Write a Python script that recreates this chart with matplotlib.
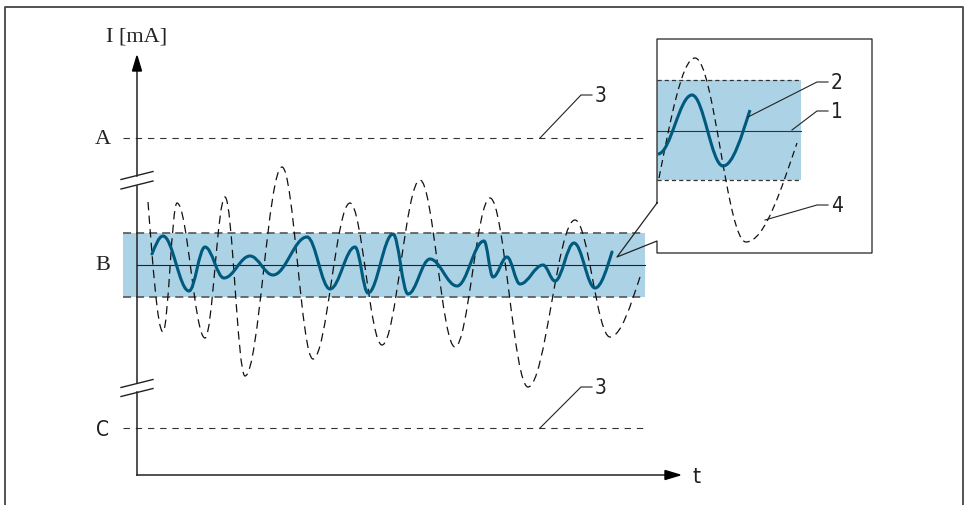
import matplotlib
matplotlib.use("Agg")
import matplotlib.pyplot as plt
from matplotlib.path import Path
from matplotlib.patches import PathPatch, Polygon, Rectangle

plt.rcParams['lines.scale_dashes'] = False

# signal (pixel space, y grows downwards)
solid_x = [152, 163, 189, 205, 224, 250, 273, 307, 330, 355, 368, 393, 408,
           430, 457, 484, 493, 507, 520, 543, 555, 574, 595, 612]
solid_y = [254, 236, 291, 247, 278, 256, 275, 237, 289, 247, 293, 234, 294,
           259, 286, 241, 277, 257, 284, 265, 281, 243, 288, 252]

dashed_x = [148, 163, 177, 205, 225, 245, 282, 313, 350, 382, 420, 455, 490,
            528, 575, 610, 640]
dashed_y = [202, 332, 203, 338, 197, 376, 167, 359, 203, 345, 180, 347, 198,
            387, 220, 337, 277]

inset_solid_x = [658, 692, 723, 750]
inset_solid_y = [154, 95, 166, 110]
inset_dashed_x = [659, 695, 746, 797]
inset_dashed_y = [178, 58, 242, 143]

# levels
level_y = {'A': 138, 'B': 265, 'C': 428}
band_top, band_bottom = 233, 297
inset_band_top, inset_band_bottom = 80, 180
inset_mid = 131

BLUE = '#acd2e6'
TEAL = '#005a7d'
GREY = '#555555'


def wave_path(xs, ys, free_start=False, free_end=False, k=0.37):
    verts = [(xs[0], ys[0])]
    codes = [Path.MOVETO]
    n = len(xs)
    for i in range(n - 1):
        x0, y0, x1, y1 = xs[i], ys[i], xs[i + 1], ys[i + 1]
        dx, dy = x1 - x0, y1 - y0
        if i == 0 and free_start:
            c1 = (x0 + dx * 0.3, y0 + dy * 0.45)
        else:
            c1 = (x0 + dx * k, y0)
        if i == n - 2 and free_end:
            c2 = (x1 - dx * 0.3, y1 - dy * 0.45)
        else:
            c2 = (x1 - dx * k, y1)
        verts += [c1, c2, (x1, y1)]
        codes += [Path.CURVE4] * 3
    return Path(verts, codes)


fig = plt.figure(figsize=(9.68, 5.05), dpi=100)
ax = fig.add_axes([0, 0, 1, 1])
ax.set_xlim(0, 968)
ax.set_ylim(505, 0)
ax.axis('off')

# outer frame
ax.plot([5, 5, 963, 963], [510, 7, 7, 510], color='#444444', lw=1.3)

serif = 'Liberation Serif'
sans = 'DejaVu Sans'

# main band
ax.add_patch(Rectangle((123, band_top), 645 - 123, band_bottom - band_top,
                       facecolor=BLUE, edgecolor='none', zorder=1))
for yy in (band_top, band_bottom):
    ax.plot([123, 645], [yy, yy], color=GREY, lw=1.2,
            linestyle=(0, (5.8, 3.6)), zorder=2)
ax.plot([137, 645], [level_y['B'], level_y['B']], color='#222222', lw=0.8, zorder=2)

# limit lines A and C
for key in ('A', 'C'):
    yy = level_y[key]
    ax.plot([123, 645], [yy, yy], color='#333333', lw=0.8,
            linestyle=(0, (4.6, 4.2)), zorder=2)

# axes with breaks
ax.plot([137, 137], [475, 392], color='#222222', lw=1.1, zorder=3)
ax.plot([137, 137], [383, 185.5], color='#222222', lw=1.1, zorder=3)
ax.plot([137, 137], [176, 68], color='#222222', lw=1.1, zorder=3)
ax.plot([137, 666], [475, 475], color='#222222', lw=1.1, zorder=3)
ax.add_patch(Polygon([(137, 56), (132.5, 71), (141.5, 71)], closed=True,
                     color='black', zorder=3))
ax.add_patch(Polygon([(680, 475), (665, 470.5), (665, 479.5)], closed=True,
                     color='black', zorder=3))
for y0 in (179.5, 189, 387.5, 396.5):
    ax.plot([121, 153], [y0, y0 - 8], color='#222222', lw=1.0, zorder=3)

# waves
ax.add_patch(PathPatch(wave_path(dashed_x, dashed_y, True, True), fill=False,
                       edgecolor='#111111', lw=0.9, linestyle=(0, (6.0, 3.8)),
                       zorder=4))
ax.add_patch(PathPatch(wave_path(solid_x, solid_y, True, True), fill=False,
                       edgecolor=TEAL, lw=2.2, zorder=5, capstyle='round'))

# inset bubble
ax.plot([657, 657, 872, 872, 657, 657, 617, 657],
        [203, 39, 39, 253, 253, 241, 257, 203], color='#222222', lw=0.9, zorder=3)
ax.add_patch(Rectangle((657, inset_band_top), 801 - 657,
                       inset_band_bottom - inset_band_top,
                       facecolor=BLUE, edgecolor='none', zorder=1))
for yy in (inset_band_top, inset_band_bottom):
    ax.plot([657, 801], [yy, yy], color='#333333', lw=0.9,
            linestyle=(0, (3.0, 2.2)), zorder=2)
ax.plot([657, 801], [inset_mid, inset_mid], color='#333333', lw=0.8, zorder=2)
ax.add_patch(PathPatch(wave_path(inset_dashed_x, inset_dashed_y, True, True),
                       fill=False, edgecolor='#111111', lw=0.9,
                       linestyle=(0, (5.0, 3.2)), zorder=4))
ax.add_patch(PathPatch(wave_path(inset_solid_x, inset_solid_y, False, True),
                       fill=False, edgecolor=TEAL, lw=2.2, zorder=5))

# leaders and numbers
leaders = [((540, 138), (581, 95), '3'), ((540, 428), (581, 387), '3'),
           ((748, 117), (817, 82), '2'), ((792, 130), (817, 111), '1'),
           ((765, 220), (817, 205), '4')]
for (x0, y0), (x1, y1), lab in leaders:
    ax.plot([x0, x1, x1 + 11], [y0, y1, y1], color='#222222', lw=0.8, zorder=6)
    ax.text(x1 + 14, y1 + 1, lab, fontsize=15, family=sans, fontstretch='condensed',
            ha='left', va='center', color='#222222')

# labels
ax.text(137, 37, 'I [mA]', fontsize=16, family=serif, ha='center', va='center',
        color='#222222')
ax.text(103, 140, 'A', fontsize=16, family=serif, ha='center', va='center',
        color='#222222')
ax.text(103, 266, 'B', fontsize=16, family=serif, ha='center', va='center',
        color='#222222')
ax.text(103, 430, 'C', fontsize=15, family=sans, fontstretch='condensed',
        ha='center', va='center', color='#222222')
ax.text(697, 477, 't', fontsize=15, family=sans, ha='center', va='center',
        color='#222222')

fig.savefig('out.png', dpi=100)
